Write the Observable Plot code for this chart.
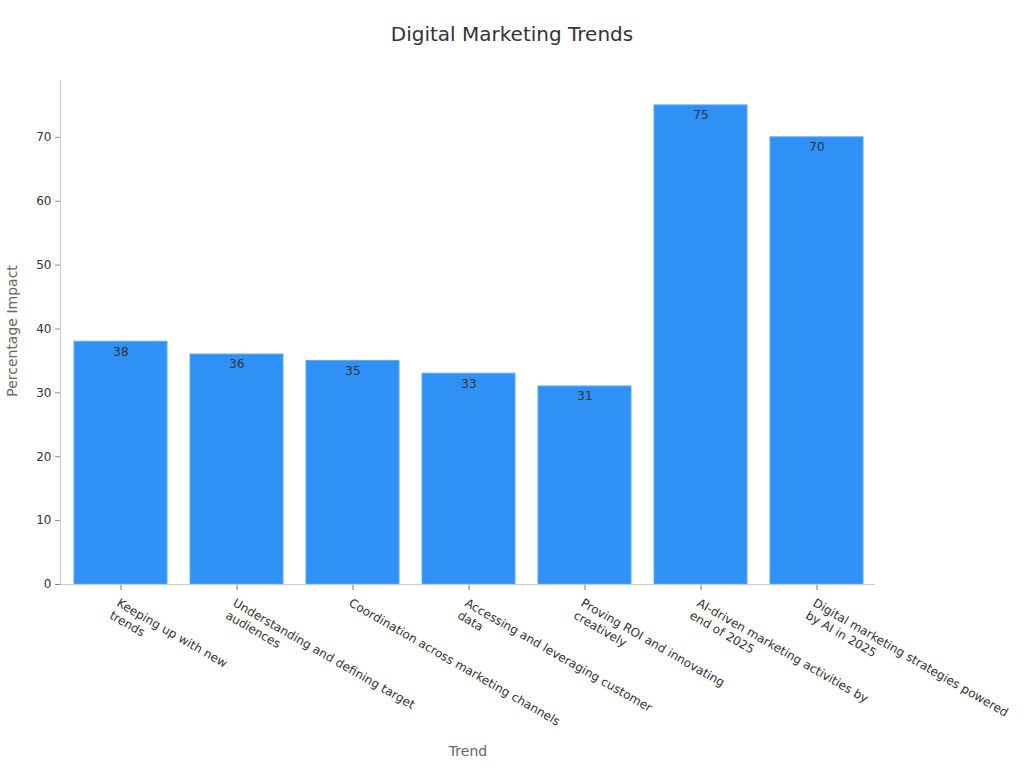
<!DOCTYPE html>
<html>
<head>
<meta charset="utf-8">
<script src="https://cdn.jsdelivr.net/npm/d3@7"></script>
<script src="https://cdn.jsdelivr.net/npm/@observablehq/plot@0.6"></script>
<style>
  html, body { margin: 0; padding: 0; background: #fff; }
  #wrap { position: relative; width: 1024px; height: 768px; font-family: "DejaVu Sans", sans-serif; }
  #title { position: absolute; top: 22px; left: 0; width: 1024px; text-align: center; font-size: 20px; color: #333; z-index: 2; }
  #chart { position: absolute; top: 0; left: 0; z-index: 1; }
</style>
</head>
<body>
<div id="wrap">
  <div id="title">Digital Marketing Trends</div>
  <div id="chart"></div>
</div>
<script>
const categories = [
  "Keeping up with new trends",
  "Understanding and defining target audiences",
  "Coordination across marketing channels",
  "Accessing and leveraging customer data",
  "Proving ROI and innovating creatively",
  "AI-driven marketing activities by end of 2025",
  "Digital marketing strategies powered by AI in 2025"
];
const tickLabels = [
  "Keeping up with new\ntrends",
  "Understanding and defining target\naudiences",
  "Coordination across marketing channels",
  "Accessing and leveraging customer\ndata",
  "Proving ROI and innovating\ncreatively",
  "AI-driven marketing activities by\nend of 2025",
  "Digital marketing strategies powered\nby AI in 2025"
];
const values = [38, 36, 35, 33, 31, 75, 70];
const yTicks = [0, 10, 20, 30, 40, 50, 60, 70];

const data = categories.map((c, i) => ({trend: c, value: values[i]}));
const labelOf = new Map(categories.map((c, i) => [c, tickLabels[i]]));

const chart = Plot.plot({
  width: 1024,
  height: 768,
  marginTop: 80,
  marginBottom: 184,
  marginLeft: 61,
  marginRight: 149,
  style: {fontFamily: "DejaVu Sans, sans-serif", fontSize: "12px", color: "#333", background: "transparent"},
  x: {domain: categories, paddingInner: 0.2, paddingOuter: 0.1, label: null},
  y: {domain: [0, 78.9], label: null, ticks: yTicks},
  marks: [
    Plot.barY(data, {x: "trend", y: "value", fill: "#2F91F6", stroke: "#5AA9F8", strokeWidth: 1}),
    Plot.text(data, {x: "trend", y: "value", text: d => String(d.value), dy: 10, fill: "#333", fontSize: 12}),
    Plot.axisY({ticks: yTicks, tickSize: 6, tickPadding: 4, fontSize: 12, stroke: "#888", fill: "#333", label: null}),
    Plot.axisX({tickSize: 6, tickFormat: () => "", stroke: "#777", label: null}),
    Plot.text(categories, {
      x: d => d, frameAnchor: "bottom", dy: 12, rotate: 30,
      textAnchor: "start", lineAnchor: "top", lineHeight: 1.2,
      text: d => labelOf.get(d), fontSize: 12, fill: "#333"
    }),
  ]
});
document.getElementById("chart").appendChild(chart);

const svg = d3.select(chart);
svg.append("line").attr("x1", 60.5).attr("x2", 60.5).attr("y1", 80).attr("y2", 584).attr("stroke", "#ccc");
svg.append("line").attr("x1", 60).attr("x2", 875).attr("y1", 584.5).attr("y2", 584.5).attr("stroke", "#ccc");
svg.append("text").attr("transform", "translate(17,331) rotate(-90)").attr("text-anchor", "middle")
  .attr("font-size", 14).attr("fill", "#666").text("Percentage Impact");
svg.append("text").attr("x", 468).attr("y", 756).attr("text-anchor", "middle")
  .attr("font-size", 14).attr("fill", "#666").text("Trend");
</script>
</body>
</html>
